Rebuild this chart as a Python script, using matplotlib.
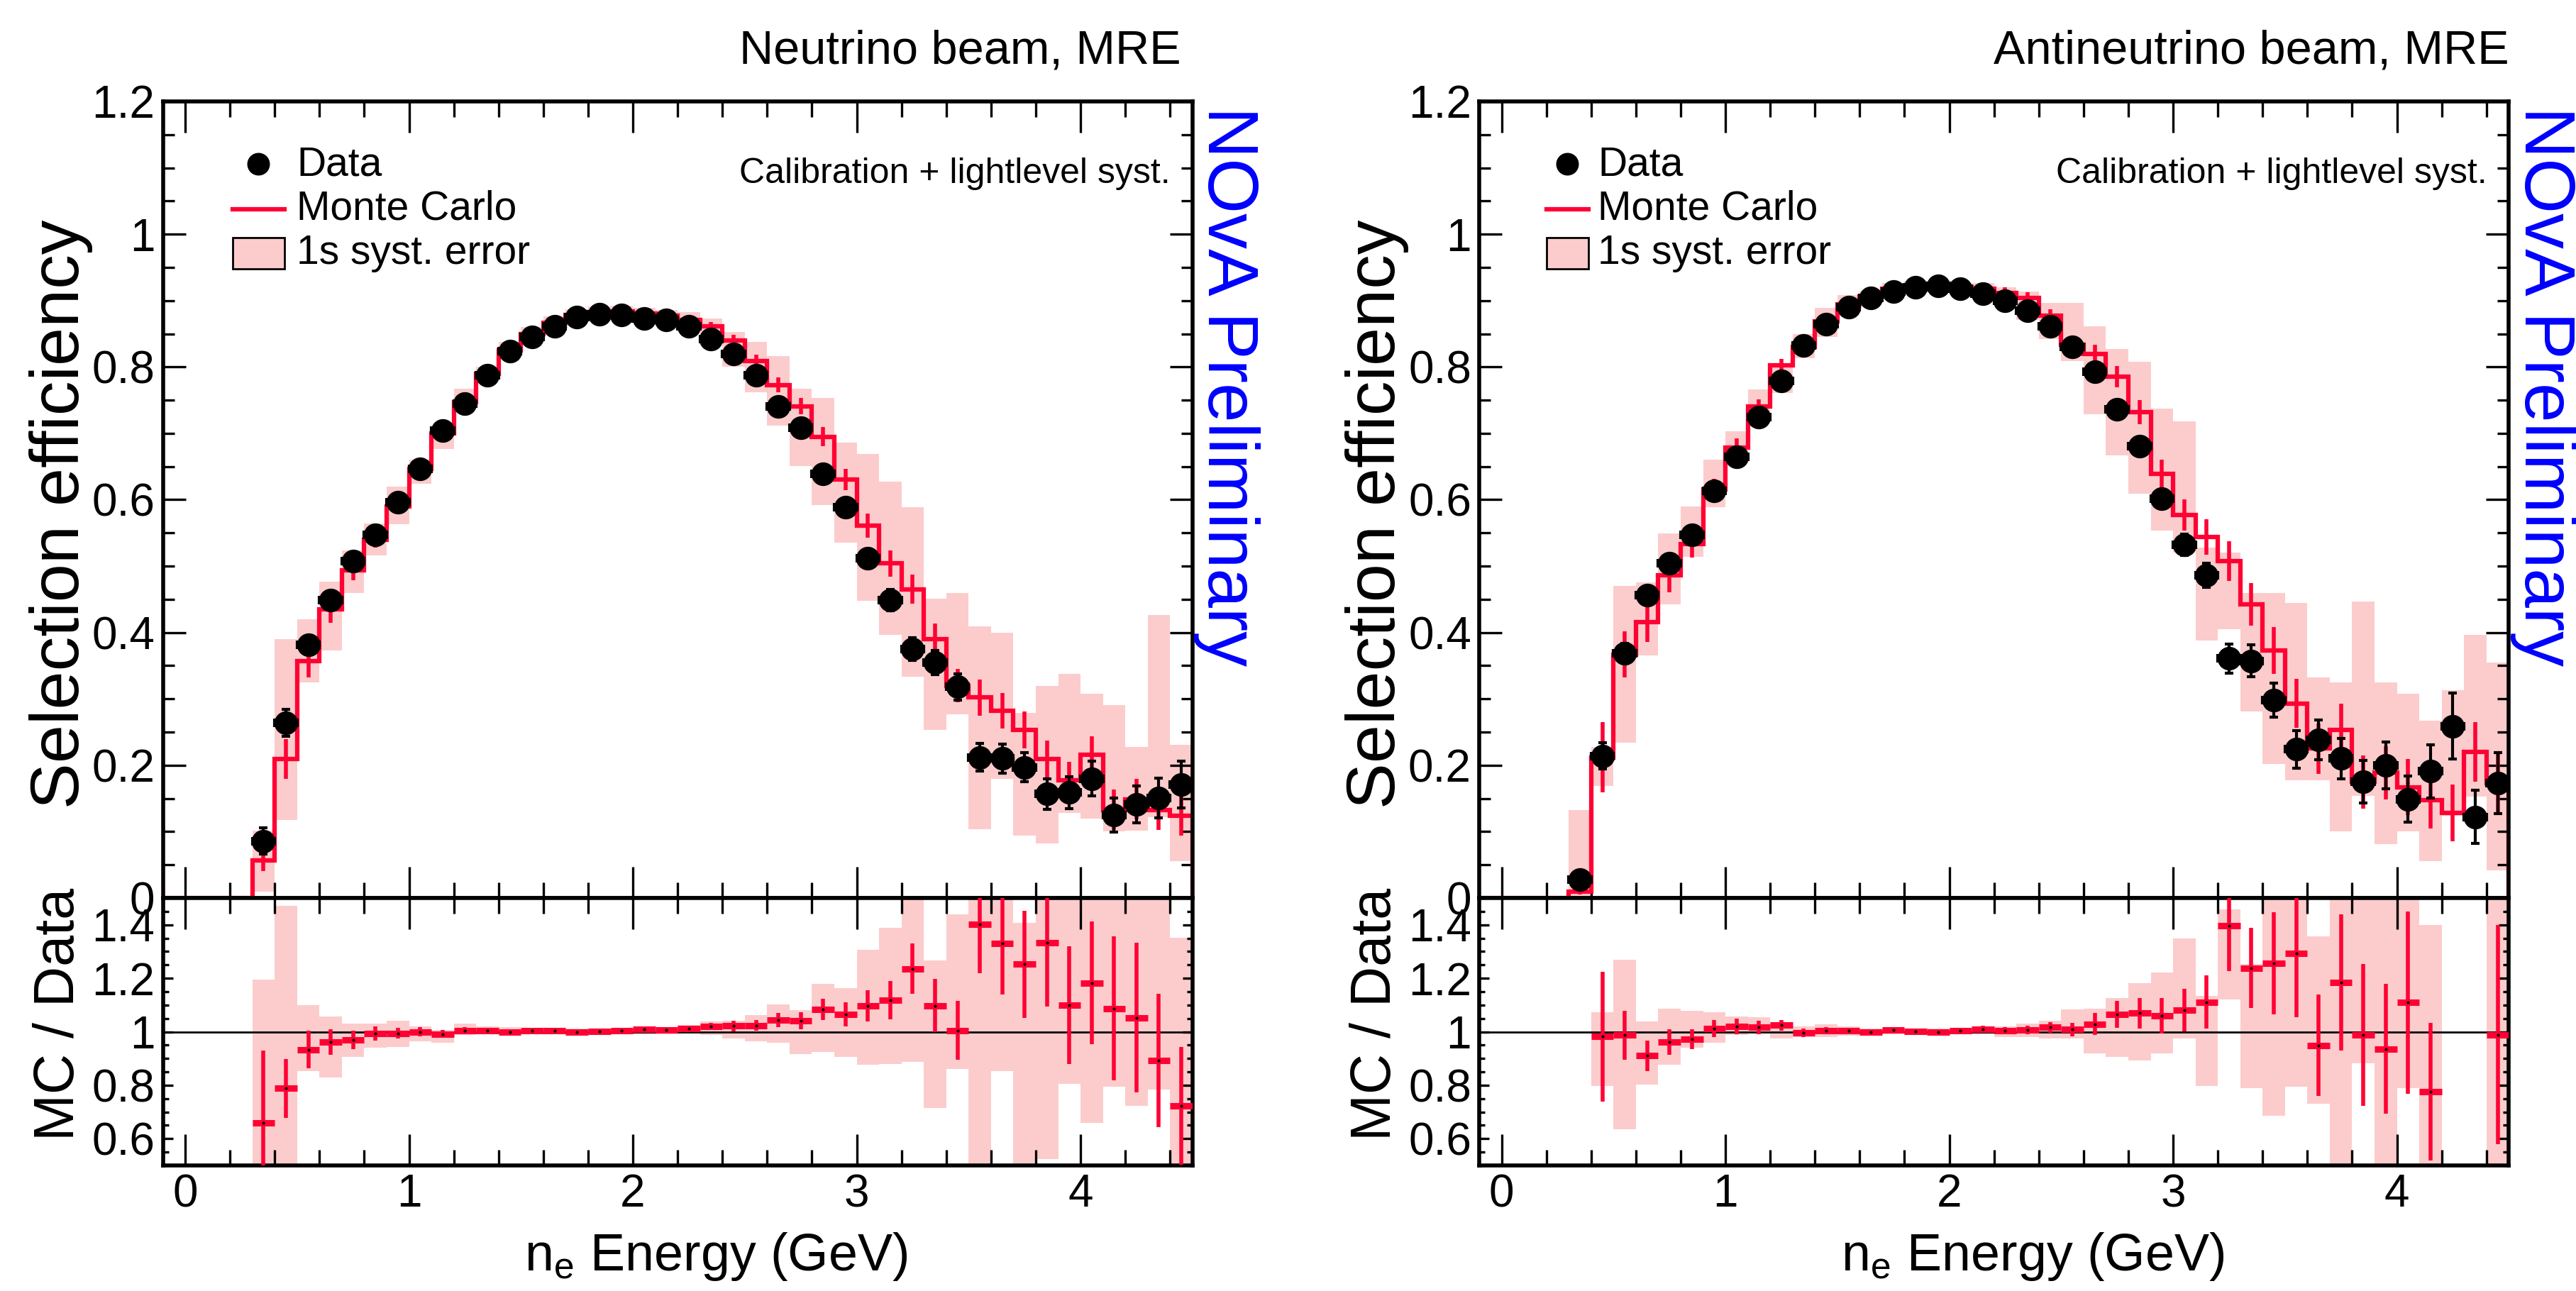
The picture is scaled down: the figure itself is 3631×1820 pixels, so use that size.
import numpy as np
import matplotlib
matplotlib.use('Agg')
import matplotlib.pyplot as plt
from matplotlib.ticker import MultipleLocator, FuncFormatter
from matplotlib.patches import Rectangle

plt.rcParams['font.family'] = ['Liberation Sans', 'DejaVu Sans']
plt.rcParams['mathtext.fontset'] = 'custom'
plt.rcParams['mathtext.rm'] = 'Liberation Sans'
plt.rcParams['mathtext.it'] = 'Liberation Sans:italic'

RED = '#ff0033'
PINK = '#fccccc'

# binning: 0.1 GeV bins, axis from -0.1 to 4.5 GeV
edges = np.round(np.arange(-0.1, 4.5001, 0.1), 2)
centers = np.round(np.arange(0.35, 4.46, 0.1), 2)   # bins with data (0.3 - 4.5 GeV)

# ---------------- neutrino beam ----------------
nu_data = [0.086, 0.264, 0.381, 0.449, 0.508, 0.547, 0.596, 0.647, 0.704, 0.745,
           0.788, 0.824, 0.845, 0.861, 0.875, 0.879, 0.878, 0.873, 0.871, 0.861,
           0.842, 0.820, 0.788, 0.741, 0.708, 0.639, 0.589, 0.512, 0.449, 0.375,
           0.355, 0.318, 0.212, 0.210, 0.197, 0.157, 0.159, 0.180, 0.125, 0.141,
           0.151, 0.171]
nu_data_err = [0.020, 0.020, 0.012, 0.010, 0.010, 0.008, 0.008, 0.008, 0.007, 0.007,
               0.006, 0.006, 0.006, 0.006, 0.006, 0.006, 0.006, 0.006, 0.007, 0.007,
               0.008, 0.008, 0.009, 0.010, 0.011, 0.012, 0.013, 0.014, 0.016, 0.017,
               0.018, 0.020, 0.021, 0.022, 0.022, 0.023, 0.024, 0.026, 0.026, 0.028,
               0.030, 0.035]
# MC histogram over all 46 bins (-0.1 .. 4.5)
nu_mc = [0, 0, 0, 0,
         0.057, 0.209, 0.357, 0.435, 0.494, 0.540, 0.590, 0.647, 0.700, 0.747,
         0.790, 0.825, 0.850, 0.867, 0.878, 0.883, 0.884, 0.881, 0.877, 0.871,
         0.861, 0.840, 0.809, 0.773, 0.741, 0.695, 0.630, 0.561, 0.504, 0.465,
         0.390, 0.320, 0.302, 0.282, 0.253, 0.209, 0.177, 0.216, 0.133, 0.149,
         0.133, 0.124]
nu_mc_err = [0.016, 0.030, 0.025, 0.020, 0.015, 0.012, 0.010, 0.009, 0.008, 0.007,
             0.006, 0.006, 0.005, 0.005, 0.005, 0.005, 0.005, 0.005, 0.006, 0.006,
             0.007, 0.008, 0.010, 0.011, 0.012, 0.014, 0.016, 0.018, 0.020, 0.022,
             0.024, 0.025, 0.027, 0.027, 0.028, 0.028, 0.028, 0.028, 0.030, 0.030,
             0.030, 0.030]
nu_band_lo = [0.010, 0.118, 0.325, 0.373, 0.460, 0.516, 0.563, 0.624, 0.676, 0.736,
              0.780, 0.814, 0.840, 0.858, 0.870, 0.875, 0.876, 0.873, 0.868, 0.863,
              0.849, 0.800, 0.762, 0.712, 0.651, 0.592, 0.535, 0.448, 0.396, 0.333,
              0.253, 0.277, 0.104, 0.180, 0.094, 0.082, 0.128, 0.120, 0.100, 0.102,
              0.122, 0.056]
nu_band_hi = [0.102, 0.390, 0.420, 0.477, 0.524, 0.564, 0.620, 0.660, 0.710, 0.767,
              0.800, 0.838, 0.860, 0.876, 0.887, 0.891, 0.892, 0.889, 0.886, 0.883,
              0.873, 0.853, 0.838, 0.816, 0.767, 0.753, 0.686, 0.669, 0.627, 0.589,
              0.451, 0.460, 0.409, 0.400, 0.279, 0.320, 0.338, 0.308, 0.291, 0.228,
              0.426, 0.231]
nu_ratio = [0.660, 0.788, 0.933, 0.962, 0.969, 0.994, 0.994, 1.000, 0.992, 1.004,
            1.003, 0.998, 1.003, 1.003, 1.000, 1.001, 1.004, 1.010, 1.006, 1.012,
            1.020, 1.022, 1.023, 1.043, 1.041, 1.083, 1.065, 1.096, 1.118, 1.236,
            1.098, 1.005, 1.403, 1.329, 1.252, 1.334, 1.100, 1.183, 1.087, 1.053,
            0.892, 0.723]
nu_ratio_err = [0.27, 0.11, 0.07, 0.047, 0.034, 0.027, 0.020, 0.016, 0.014, 0.012,
                0.010, 0.009, 0.008, 0.008, 0.008, 0.008, 0.008, 0.009, 0.010, 0.011,
                0.014, 0.020, 0.020, 0.027, 0.033, 0.040, 0.045, 0.058, 0.072, 0.095,
                0.100, 0.110, 0.185, 0.190, 0.200, 0.240, 0.220, 0.230, 0.270, 0.280,
                0.250, 0.220]
nu_rband_lo = [0.120, 0.447, 0.853, 0.828, 0.905, 0.940, 0.942, 0.963, 0.958, 0.989,
               0.990, 0.990, 0.991, 0.991, 0.991, 0.991, 0.991, 0.991, 0.991, 0.994,
               0.988, 0.976, 0.964, 0.958, 0.916, 0.925, 0.907, 0.876, 0.878, 0.887,
               0.714, 0.862, 0.400, 0.852, 0.400, 0.523, 0.805, 0.660, 0.794, 0.723,
               0.785, 0.400]
nu_rband_hi = [1.194, 1.472, 1.100, 1.058, 1.031, 1.031, 1.040, 1.020, 1.007, 1.031,
               1.020, 1.016, 1.012, 1.012, 1.012, 1.012, 1.012, 1.012, 1.015, 1.025,
               1.038, 1.041, 1.062, 1.103, 1.081, 1.178, 1.164, 1.307, 1.389, 1.600,
               1.267, 1.440, 1.600, 1.600, 1.407, 1.600, 1.600, 1.600, 1.600, 1.600,
               1.600, 1.351]

# ---------------- antineutrino beam ----------------
anu_data = [0.028, 0.214, 0.369, 0.456, 0.504, 0.547, 0.613, 0.665, 0.725, 0.779,
            0.832, 0.864, 0.890, 0.904, 0.914, 0.920, 0.922, 0.918, 0.910, 0.900,
            0.885, 0.861, 0.830, 0.793, 0.736, 0.681, 0.602, 0.532, 0.486, 0.361,
            0.357, 0.298, 0.224, 0.238, 0.210, 0.175, 0.200, 0.149, 0.191, 0.259,
            0.122, 0.173]
anu_data_err = [0.012, 0.020, 0.015, 0.012, 0.010, 0.010, 0.009, 0.008, 0.008, 0.007,
                0.007, 0.006, 0.006, 0.006, 0.006, 0.006, 0.006, 0.006, 0.007, 0.007,
                0.008, 0.008, 0.009, 0.010, 0.011, 0.013, 0.014, 0.016, 0.018, 0.022,
                0.024, 0.026, 0.028, 0.030, 0.030, 0.032, 0.035, 0.035, 0.040, 0.050,
                0.040, 0.046]
anu_mc = [0, 0, 0, 0,
          0.010, 0.212, 0.367, 0.416, 0.486, 0.533, 0.616, 0.679, 0.740, 0.802,
          0.830, 0.869, 0.894, 0.906, 0.918, 0.922, 0.922, 0.920, 0.918, 0.912,
          0.904, 0.877, 0.834, 0.820, 0.785, 0.732, 0.639, 0.577, 0.544, 0.508,
          0.442, 0.373, 0.293, 0.225, 0.253, 0.175, 0.189, 0.167, 0.147, 0.128,
          0.220, 0.173]
anu_mc_err = [0.005, 0.053, 0.035, 0.030, 0.025, 0.020, 0.016, 0.013, 0.011, 0.010,
              0.008, 0.007, 0.006, 0.006, 0.006, 0.006, 0.006, 0.007, 0.008, 0.008,
              0.009, 0.010, 0.012, 0.014, 0.016, 0.018, 0.021, 0.024, 0.027, 0.030,
              0.032, 0.035, 0.037, 0.038, 0.040, 0.040, 0.040, 0.042, 0.042, 0.043,
              0.045, 0.045]
anu_band_lo = [0.000, 0.169, 0.234, 0.365, 0.442, 0.514, 0.589, 0.665, 0.724, 0.761,
               0.813, 0.845, 0.878, 0.895, 0.908, 0.912, 0.912, 0.908, 0.905, 0.895,
               0.871, 0.842, 0.809, 0.729, 0.667, 0.609, 0.554, 0.520, 0.388, 0.405,
               0.281, 0.202, 0.177, 0.177, 0.100, 0.154, 0.081, 0.100, 0.056, 0.124,
               0.153, 0.042]
anu_band_hi = [0.132, 0.228, 0.470, 0.475, 0.549, 0.590, 0.660, 0.703, 0.766, 0.806,
               0.849, 0.889, 0.908, 0.915, 0.926, 0.930, 0.930, 0.928, 0.926, 0.920,
               0.914, 0.896, 0.896, 0.861, 0.827, 0.808, 0.737, 0.718, 0.528, 0.520,
               0.459, 0.460, 0.444, 0.332, 0.325, 0.447, 0.325, 0.308, 0.267, 0.313,
               0.396, 0.355]
nan = np.nan
anu_ratio = [nan, 0.982, 0.987, 0.911, 0.961, 0.972, 1.013, 1.020, 1.016, 1.025,
             0.996, 1.004, 1.003, 0.998, 1.007, 1.001, 0.998, 1.003, 1.010, 1.004,
             1.007, 1.016, 1.009, 1.029, 1.065, 1.069, 1.060, 1.081, 1.111, 1.396,
             1.238, 1.256, 1.294, 0.949, 1.185, 0.987, 0.936, 1.109, 0.776, nan,
             nan, 0.989]
anu_ratio_err = [0, 0.243, 0.092, 0.057, 0.048, 0.037, 0.032, 0.028, 0.025, 0.020,
                 0.015, 0.012, 0.010, 0.010, 0.010, 0.010, 0.010, 0.010, 0.012, 0.013,
                 0.015, 0.020, 0.025, 0.040, 0.050, 0.058, 0.067, 0.080, 0.100, 0.170,
                 0.150, 0.190, 0.240, 0.190, 0.255, 0.265, 0.243, 0.340, 0.257, 0,
                 0, 0.410]
anu_rband_lo = [nan, 0.796, 0.634, 0.803, 0.876, 0.940, 0.958, 0.987, 0.999, 0.976,
                0.980, 0.980, 0.985, 0.990, 0.990, 0.990, 0.990, 0.990, 0.990, 0.980,
                0.980, 0.974, 0.976, 0.920, 0.907, 0.893, 0.920, 0.976, 0.798, 1.121,
                0.788, 0.687, 0.794, 0.732, 0.400, 0.883, 0.400, 0.788, 0.400, nan,
                nan, 0.400]
anu_rband_hi = [nan, 1.072, 1.269, 1.038, 1.085, 1.078, 1.072, 1.058, 1.054, 1.034,
                1.020, 1.028, 1.020, 1.012, 1.012, 1.012, 1.012, 1.012, 1.012, 1.020,
                1.031, 1.041, 1.083, 1.085, 1.125, 1.183, 1.222, 1.348, 1.133, 1.458,
                1.254, 1.600, 1.600, 1.356, 1.600, 1.600, 1.600, 1.600, 1.400, nan,
                nan, 1.600]

W, H = 3631, 1820


def fx(px):
    return px / W


def fy(py):
    return 1 - py / H


fig = plt.figure(figsize=(W / 100, H / 100), dpi=100)

fmt = FuncFormatter(lambda v, p: f"{v:g}")


def style_axis(ax):
    ax.set_xlim(-0.1, 4.5)
    ax.xaxis.set_major_locator(MultipleLocator(1))
    ax.xaxis.set_minor_locator(MultipleLocator(0.2))
    ax.tick_params(which='both', direction='in', top=True, right=True, width=2.4,
                   labelsize=46)
    ax.tick_params(axis='x', which='major', length=32, pad=8)
    ax.tick_params(axis='x', which='minor', length=16)
    ax.yaxis.set_major_formatter(fmt)
    ax.xaxis.set_major_formatter(fmt)
    for s in ax.spines.values():
        s.set_linewidth(4)


def draw_panel(x0, data, data_err, mc, mc_err, band_lo, band_hi,
               ratio, ratio_err, rband_lo, rband_hi, title, title_x, title_ha,
               leg):
    axw = 1451.3 / W
    main = fig.add_axes([fx(x0), fy(1266), axw, 1123 / H])
    rat = fig.add_axes([fx(x0), fy(1643), axw, 377 / H])

    data = np.array(data)
    band_lo = np.array(band_lo)
    band_hi = np.array(band_hi)
    main.bar(centers, band_hi - band_lo, bottom=band_lo, width=0.1,
             color=PINK, linewidth=0, zorder=1)
    main.stairs(mc, edges, color=RED, lw=4.5, zorder=2)
    main.errorbar(centers, mc[4:], yerr=mc_err, fmt='none', ecolor=RED,
                  elinewidth=4, capsize=0, zorder=2)
    main.errorbar(centers, data, yerr=data_err, xerr=0.05, fmt='o', color='k',
                  ms=23, elinewidth=3, capsize=4, capthick=3, zorder=3)
    style_axis(main)
    main.set_ylim(0, 1.2)
    main.yaxis.set_major_locator(MultipleLocator(0.2))
    main.yaxis.set_minor_locator(MultipleLocator(0.05))
    main.tick_params(axis='y', which='major', length=23, pad=8)
    main.tick_params(axis='y', which='minor', length=11.5)
    main.tick_params(axis='x', labelbottom=False)

    rband_lo = np.array(rband_lo)
    rband_hi = np.array(rband_hi)
    ok = ~np.isnan(rband_lo)
    rat.bar(centers[ok], (rband_hi - rband_lo)[ok], bottom=rband_lo[ok],
            width=0.1, color=PINK, linewidth=0, zorder=1)
    rat.axhline(1, color='k', lw=2, zorder=2)
    ratio = np.array(ratio)
    ok = ~np.isnan(ratio)
    rat.errorbar(centers[ok], ratio[ok], xerr=0.05, fmt='none', ecolor=RED,
                 elinewidth=6.5, capsize=0, zorder=3)
    rat.errorbar(centers[ok], ratio[ok], yerr=np.array(ratio_err)[ok],
                 fmt='none', ecolor=RED, elinewidth=4, capsize=0, zorder=3)
    rat.plot(centers[ok], ratio[ok], 'k.', ms=4, zorder=4)
    style_axis(rat)
    rat.set_ylim(0.5, 1.5)
    rat.yaxis.set_major_locator(MultipleLocator(0.2))
    rat.yaxis.set_minor_locator(MultipleLocator(0.05))
    rat.tick_params(axis='y', which='major', length=10, pad=8)
    rat.tick_params(axis='y', which='minor', length=6)

    # titles and labels
    fig.text(fx(title_x), fy(90), title, ha=title_ha, va='baseline', fontsize=48)
    fig.text(fx(x0 + 812.5), fy(258), 'Calibration + lightlevel syst.',
             ha='left', va='baseline', fontsize=36)
    fig.text(fx(x0 + 1473.5), fy(150), 'NOvA Preliminary', rotation=-90,
             rotation_mode='anchor', ha='left', va='baseline', color='#0000ff',
             fontsize=72)
    fig.text(fx(x0 - 143.5), fy(725), 'Selection efficiency', rotation=90,
             ha='center', va='center', fontsize=70)
    fig.text(fx(x0 - 145.5), fy(1430), 'MC / Data', rotation=90,
             ha='center', va='center', fontsize=57)
    fig.text(fx(x0 + 780), fy(1772), r'n$_{\mathrm{e}}$ Energy (GeV)',
             ha='center', va='center', fontsize=53)

    # legend
    dot_x, line_x0, line_x1, text_x = leg
    main.plot([fx(dot_x)], [fy(231)], 'o', color='k', ms=22,
              transform=fig.transFigure, clip_on=False)
    main.plot([fx(line_x0), fx(line_x1)], [fy(295), fy(295)], color=RED, lw=4.5,
              transform=fig.transFigure, clip_on=False)
    main.add_artist(Rectangle((fx(line_x0), fy(379)), (line_x1 - line_x0) / W,
                              44 / H, transform=fig.transFigure,
                              facecolor=PINK, edgecolor='k', lw=2,
                              clip_on=False))
    fig.text(fx(text_x), fy(247), 'Data', ha='left', va='baseline', fontsize=41)
    fig.text(fx(text_x), fy(310), 'Monte Carlo', ha='left', va='baseline',
             fontsize=41)
    fig.text(fx(text_x), fy(372), '1s syst. error', ha='left', va='baseline',
             fontsize=41)


draw_panel(229.5, nu_data, nu_data_err, nu_mc, nu_mc_err, nu_band_lo, nu_band_hi,
           nu_ratio, nu_ratio_err, nu_rband_lo, nu_rband_hi,
           'Neutrino beam, MRE', 1042, 'left', (364, 328, 401, 418))
draw_panel(2085, anu_data, anu_data_err, anu_mc, anu_mc_err, anu_band_lo,
           anu_band_hi, anu_ratio, anu_ratio_err, anu_rband_lo, anu_rband_hi,
           'Antineutrino beam, MRE', 3537, 'right', (2209, 2180, 2239, 2252))

fig.savefig('out.png', dpi=100)
